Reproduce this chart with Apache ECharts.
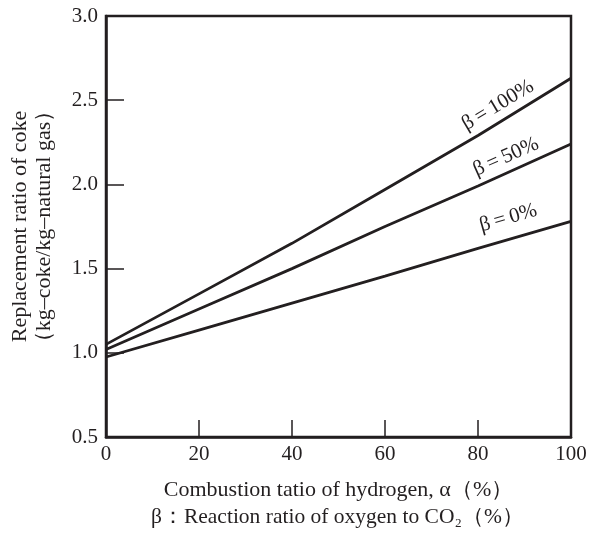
<!DOCTYPE html>
<html><head><meta charset="utf-8">
<script src="https://cdn.jsdelivr.net/npm/echarts@6/dist/echarts.min.js"></script>
<style>html,body{margin:0;padding:0;background:#fff}#c{width:598px;height:539px}</style>
</head><body><div id="c"></div>
<script>
const alpha = [0, 20, 40, 60, 80, 100];
const beta100 = [1.05, 1.35, 1.65, 1.97, 2.29, 2.63];
const beta50 = [1.02, 1.26, 1.50, 1.75, 1.99, 2.24];
const beta0 = [0.975, 1.135, 1.295, 1.455, 1.62, 1.78];
const seriesNames = ['β\u2009=\u2009100%', 'β\u2009=\u200950%', 'β\u2009=\u20090%'];
const yTicks = [0.5, 1.0, 1.5, 2.0, 2.5, 3.0];
const xTicks = [0, 20, 40, 60, 80, 100];

const C = '#231f20';
const FONT = '"Liberation Serif", "DejaVu Serif", serif';
const chart = echarts.init(document.getElementById('c'));

function mk(name, vals, labelPos, rot) {
  return {
    type: 'line', name: name,
    data: alpha.map((a, i) => [a, vals[i]]),
    symbol: 'none', smooth: false,
    lineStyle: {color: C, width: 2.8},
    markPoint: {
      symbol: 'circle', symbolSize: 0, silent: true,
      data: [{coord: labelPos, value: name}],
      label: {show: true, formatter: name, color: C, fontFamily: FONT, fontSize: 21,
              rotate: rot, position: 'inside'}
    }
  };
}

chart.setOption({
  animation: false,
  grid: {left: 106, top: 16, right: 27, bottom: 102, containLabel: false, outerBoundsMode: 'none',
         show: true, borderColor: C, borderWidth: 2.5, backgroundColor: 'transparent'},
  xAxis: {
    type: 'value', min: 0, max: 100, interval: 20,
    name: 'Combustion tatio of hydrogen, α（%）', nameLocation: 'middle', nameGap: 42,
    nameTextStyle: {color: C, fontFamily: FONT, fontSize: 22},
    axisLine: {show: true, lineStyle: {color: C, width: 2.5}},
    axisTick: {show: true, inside: true, length: 17, lineStyle: {color: C, width: 1.5}},
    axisLabel: {color: C, fontFamily: FONT, fontSize: 21, margin: 7,
      formatter: v => xTicks.includes(v) ? String(v) : ''},
    splitLine: {show: false}
  },
  yAxis: {
    type: 'value', min: 0.5, max: 3.0, interval: 0.5,
    name: 'Replacement ratio of coke\n（kg–coke/kg–natural gas）', nameLocation: 'middle', nameGap: 50,
    nameRotate: 90,
    nameTextStyle: {color: C, fontFamily: FONT, fontSize: 22, lineHeight: 24},
    axisLine: {show: true, lineStyle: {color: C, width: 2.5}},
    axisTick: {show: true, inside: true, length: 18, lineStyle: {color: C, width: 1.5}},
    axisLabel: {color: C, fontFamily: FONT, fontSize: 21, margin: 8,
      formatter: v => yTicks.some(t => Math.abs(t - v) < 1e-9) ? v.toFixed(1) : ''},
    splitLine: {show: false}
  },
  graphic: [{
    type: 'text', left: 151, top: 506,
    style: {text: 'β：Reaction ratio of oxygen to CO₂（%）', fill: C, font: '21.5px ' + FONT}
  }],
  series: [
    mk(seriesNames[0], beta100, [84.3, 2.47], 31),
    mk(seriesNames[1], beta50, [86, 2.163], 24),
    mk(seriesNames[2], beta0, [86.5, 1.80], 16)
  ]
});
</script></body></html>
